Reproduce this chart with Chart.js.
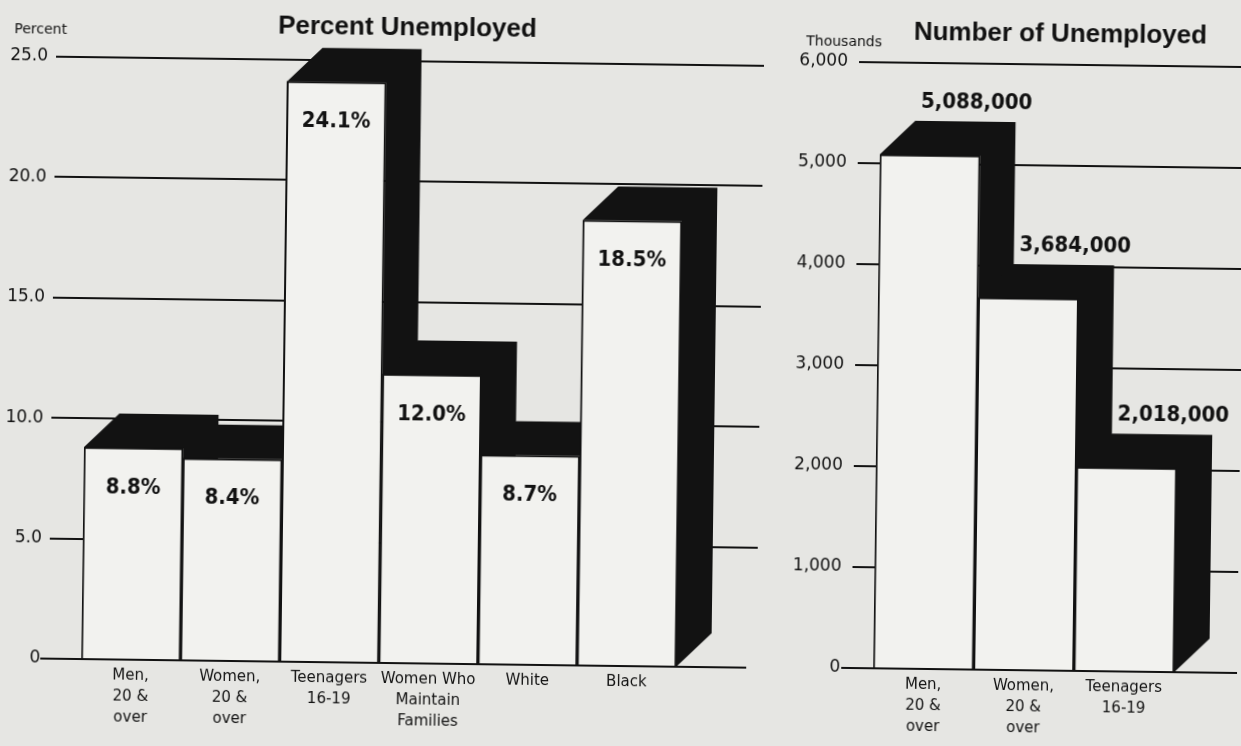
<!DOCTYPE html>
<html>
<head>
<meta charset="utf-8">
<script src="https://cdn.jsdelivr.net/npm/chart.js@4.4.1/dist/chart.umd.min.js"></script>
<style>
  html, body { margin: 0; padding: 0; background: #e6e6e3; overflow: hidden; }
  #page { position: relative; width: 1241px; height: 746px; transform: rotate(0.74deg); transform-origin: 620px 373px; }
  canvas { position: absolute; top: 0; }
  #pctChart { left: 0; }
  #numChart { left: 790px; }
</style>
</head>
<body>
<div id="page">
  <canvas id="pctChart" width="790" height="746"></canvas>
  <canvas id="numChart" width="451" height="746"></canvas>
</div>
<script>
// Percent unemployed
const pctCategories = [['Men,', '20 &', 'over'], ['Women,', '20 &', 'over'], ['Teenagers', '16-19'], ['Women Who', 'Maintain', 'Families'], ['White'], ['Black']];
const pctValues = [8.8, 8.4, 24.1, 12.0, 8.7, 18.5];
const pctTickLabels = ['0', '5.0', '10.0', '15.0', '20.0', '25.0'];

// Number unemployed (thousands)
const numCategories = [['Men,', '20 &', 'over'], ['Women,', '20 &', 'over'], ['Teenagers', '16-19']];
const numValues = [5088, 3684, 2018];
const numTickLabels = ['0', '1,000', '2,000', '3,000', '4,000', '5,000', '6,000'];

const INK = '#121212';
const PAPER = '#f2f2ef';
const DEPTH_X = 35, DEPTH_Y = 34;
const TICK_FONT = 'DejaVu Sans';
const VALUE_FONT = 'bold 22px "DejaVu Sans Condensed", "DejaVu Sans", sans-serif';

// gridlines and the black 3D sides go under the white bar faces
const depthPlugin = {
  id: 'depth',
  beforeDatasetsDraw(chart, args, opts) {
    const ctx = chart.ctx;
    const y = chart.scales.y;
    ctx.save();
    ctx.strokeStyle = INK;
    ctx.lineWidth = 2;
    y.ticks.forEach(t => {
      if (t.value === 0) return;
      const py = Math.round(y.getPixelForValue(t.value));
      ctx.beginPath();
      ctx.moveTo(opts.gridFrom, py);
      ctx.lineTo(opts.gridTo, py);
      ctx.stroke();
    });
    ctx.fillStyle = INK;
    chart.getDatasetMeta(0).data.forEach(bar => {
      const x0 = bar.x - bar.width / 2, x1 = bar.x + bar.width / 2;
      ctx.beginPath();
      ctx.moveTo(x0, bar.y);
      ctx.lineTo(x0 + DEPTH_X, bar.y - DEPTH_Y);
      ctx.lineTo(x1 + DEPTH_X, bar.y - DEPTH_Y);
      ctx.lineTo(x1 + DEPTH_X, bar.base - DEPTH_Y);
      ctx.lineTo(x1, bar.base);
      ctx.lineTo(x1, bar.y);
      ctx.closePath();
      ctx.fill();
    });
    ctx.restore();
  },
  afterDatasetsDraw(chart, args, opts) {
    const ctx = chart.ctx;
    const py = Math.round(chart.scales.y.getPixelForValue(0));
    ctx.save();
    ctx.strokeStyle = INK;
    ctx.lineWidth = 2;
    ctx.beginPath();
    ctx.moveTo(opts.axisFrom, py);
    ctx.lineTo(opts.axisTo, py);
    ctx.stroke();
    ctx.restore();
  }
};

// title, unit and value labels
const textPlugin = {
  id: 'texts',
  afterDraw(chart, args, opts) {
    const ctx = chart.ctx;
    ctx.save();
    ctx.fillStyle = INK;
    ctx.textBaseline = 'middle';

    ctx.font = 'bold 26px "Liberation Sans", Arial, sans-serif';
    ctx.textAlign = 'center';
    ctx.fillText(opts.title, opts.titleX, opts.titleY);

    ctx.font = '14px "DejaVu Sans", sans-serif';
    ctx.textAlign = 'left';
    ctx.fillText(opts.unit, opts.unitX, opts.unitY);

    ctx.font = VALUE_FONT;
    if ('fontStretch' in ctx) ctx.fontStretch = 'condensed';
    ctx.textAlign = 'center';
    chart.getDatasetMeta(0).data.forEach((bar, i) => {
      const txt = opts.format(chart.data.datasets[0].data[i]);
      if (opts.inside) ctx.fillText(txt, bar.x, bar.y + 40);
      else ctx.fillText(txt, bar.x + 46, bar.y - 53);
    });
    ctx.restore();
  }
};

function makeChart(id, cats, values, tickLabels, max, step, cfg) {
  return new Chart(document.getElementById(id), {
    type: 'bar',
    data: {
      labels: cats,
      datasets: [{
        data: values,
        backgroundColor: PAPER,
        borderColor: INK,
        borderWidth: 2,
        borderSkipped: 'bottom',
        categoryPercentage: 1,
        barPercentage: 1
      }]
    },
    options: {
      responsive: false,
      animation: false,
      layout: { padding: { top: cfg.top, right: cfg.right, left: 0, bottom: 0 } },
      plugins: {
        legend: { display: false },
        tooltip: { enabled: false },
        depth: cfg.depth,
        texts: cfg.texts
      },
      scales: {
        x: {
          grid: { display: false, drawTicks: false },
          border: { display: false },
          ticks: {
            color: INK,
            font: { family: TICK_FONT, size: 15, lineHeight: 1.4 },
            padding: 6,
            maxRotation: 0,
            autoSkip: false
          },
          afterFit: s => { s.height = 746 - cfg.bottom; }
        },
        y: {
          min: 0,
          max: max,
          grid: { display: false, drawTicks: false },
          border: { display: false },
          ticks: {
            stepSize: step,
            color: INK,
            font: { family: TICK_FONT, size: 17 },
            padding: cfg.tickPad,
            callback: (v, i) => tickLabels[i]
          },
          afterFit: s => { s.width = cfg.left; }
        }
      }
    },
    plugins: [depthPlugin, textPlugin]
  });
}

makeChart('pctChart', pctCategories, pctValues, pctTickLabels, 25, 5, {
  top: 64, right: 110, left: 85, bottom: 666, tickPad: 41,
  depth: { gridFrom: 52, gridTo: 760, axisFrom: 44, axisTo: 750 },
  texts: {
    title: 'Percent Unemployed', titleX: 403, titleY: 31,
    unit: 'Percent', unitX: 10, unitY: 37,
    inside: true, format: v => v.toFixed(1) + '%'
  }
});

makeChart('numChart', numCategories, numValues, numTickLabels, 6000, 1000, {
  top: 59, right: 63, left: 87, bottom: 665, tickPad: 33,
  depth: { gridFrom: 65, gridTo: 451, axisFrom: 55, axisTo: 451 },
  texts: {
    title: 'Number of Unemployed', titleX: 266, titleY: 29,
    unit: 'Thousands', unitX: 12, unitY: 39,
    inside: false, format: v => (v * 1000).toLocaleString('en-US')
  }
});
</script>
</body>
</html>
